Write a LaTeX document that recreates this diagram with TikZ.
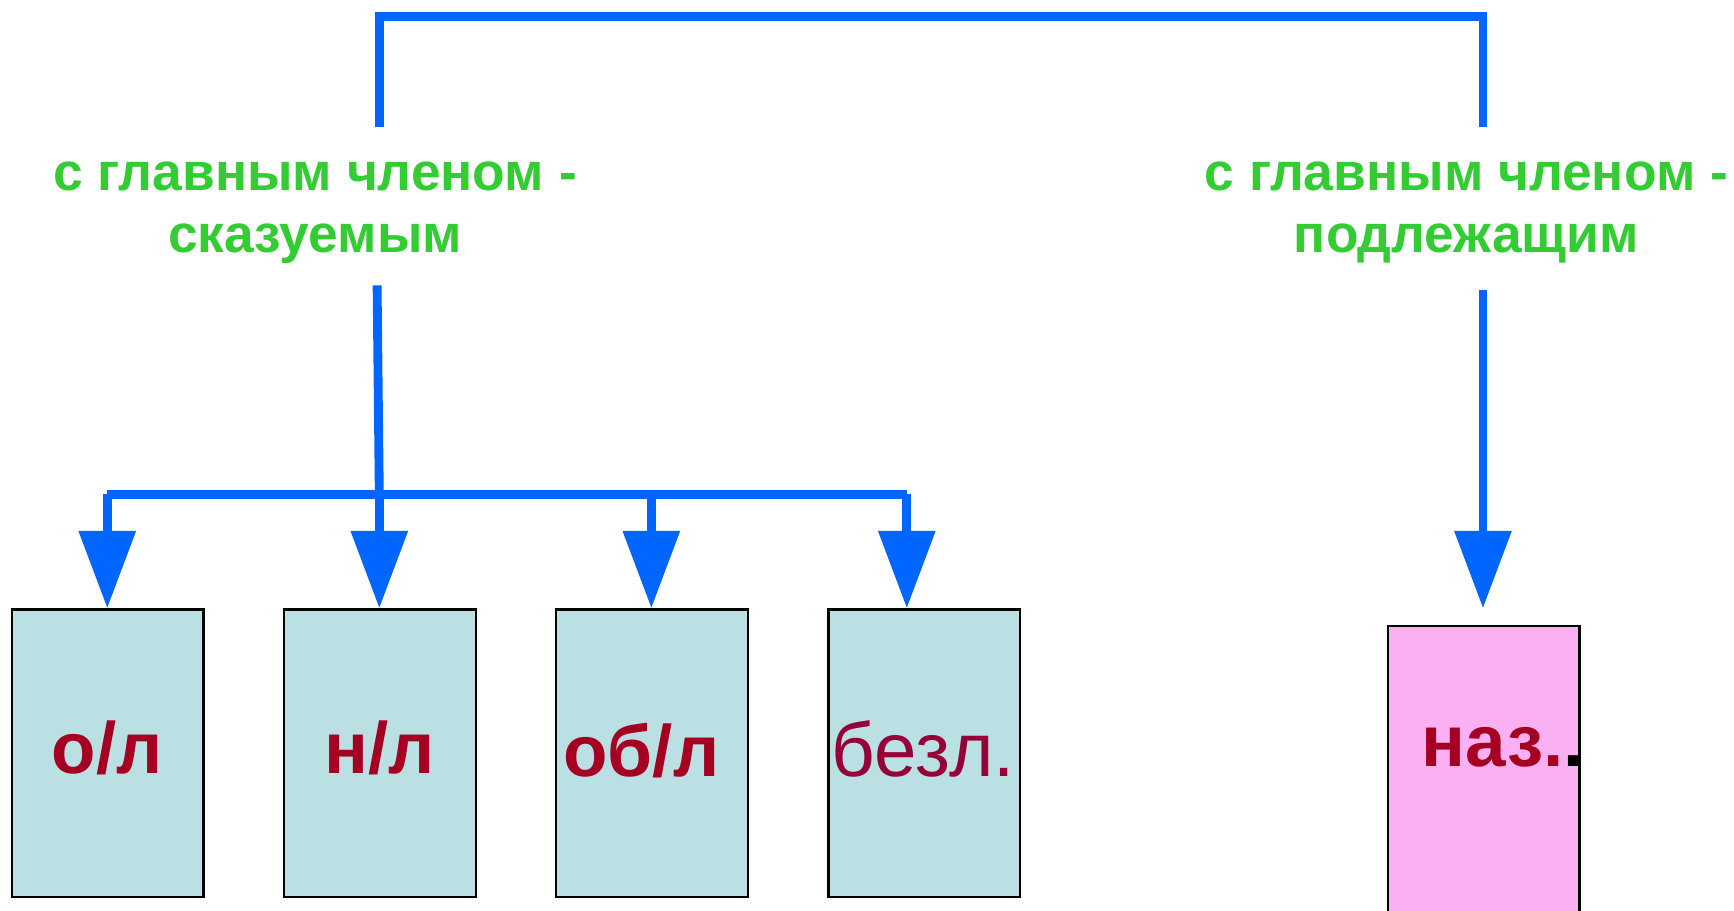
\documentclass[tikz,border=0pt]{standalone}
\usepackage{fontspec}
\setmainfont{Liberation Sans}
\usetikzlibrary{arrows.meta}
\definecolor{lblue}{HTML}{0066FF}
\definecolor{tgreen}{HTML}{33CC33}
\definecolor{dred}{HTML}{A50021}
\definecolor{boxblue}{HTML}{BBE0E3}
\definecolor{boxpink}{HTML}{FBB0F3}
\tikzset{
  conn/.style={draw=lblue, line width=0.08cm},
  arr/.style={conn, -{Triangle[width=0.5cm,length=0.7cm]}},
  lbl/.style={text=tgreen, font=\fontsize{13.7}{15.9}\selectfont\bfseries, align=center, inner sep=0pt},
  cbox/.style={draw=black, line width=0.6pt, fill=boxblue, minimum width=1.73cm, minimum height=2.6cm, inner sep=0pt, anchor=north west},
  btext/.style={text=dred, font=\fontsize{18.7}{20}\selectfont\bfseries, inner sep=0pt}
}
\begin{document}
\begin{tikzpicture}[x=0.01cm,y=-0.01cm]
\useasboundingbox (0,0) rectangle (1568,823);
% text labels
\node[lbl] (lt) at (285,192) {с главным членом -\\сказуемым};
\node[lbl] (rt) at (1326,192) {с главным членом -\\подлежащим};
% boxes
\node[cbox] (b1) at (10,550) {};
\node[cbox] (b2) at (256,550) {};
\node[cbox] (b3) at (502,550) {};
\node[cbox] (b4) at (748,550) {};
\begin{scope}
\clip (0,0) rectangle (1568,823);
\node[cbox, fill=boxpink, minimum height=3cm] (b5) at (1254,565) {};
\end{scope}
\node[btext] (t1) at (97,676) {о/л};
\node[btext] (t2) at (343,676) {н/л};
\node[btext] (t3) at (580,679) {об/л};
\node[text=dred!90!blue, font=\fontsize{19.6}{21}\selectfont, inner sep=0pt] (t4) at (835,677) {безл.};
\node[btext, anchor=west] (t5) at (1285,676) {наз.\textcolor{black}{.}};
% top bracket
\coordinate (la) at (343,115);
\coordinate (ra) at (1341,115);
\draw[conn] (la) -- (343,15) -- (1341,15) -- (ra);
% left branch
\coordinate (lb) at (341,258);
\coordinate (j) at (343,447);
\coordinate (j1) at (97,447);
\coordinate (j3) at (589,447);
\coordinate (j4) at (820,447);
\draw[conn] (lb) -- (j);
\draw[conn] (j1) -- (j4);
\draw[arr] (j1) -- (j1 |- b1.north);
\draw[arr] (j) -- (j |- b2.north);
\draw[arr] (j3) -- (j3 |- b3.north);
\draw[arr] (j4) -- (j4 |- b4.north);
% right branch
\coordinate (rb) at (1341,262);
\draw[arr] (rb) -- (1341,550);
\end{tikzpicture}
\end{document}
